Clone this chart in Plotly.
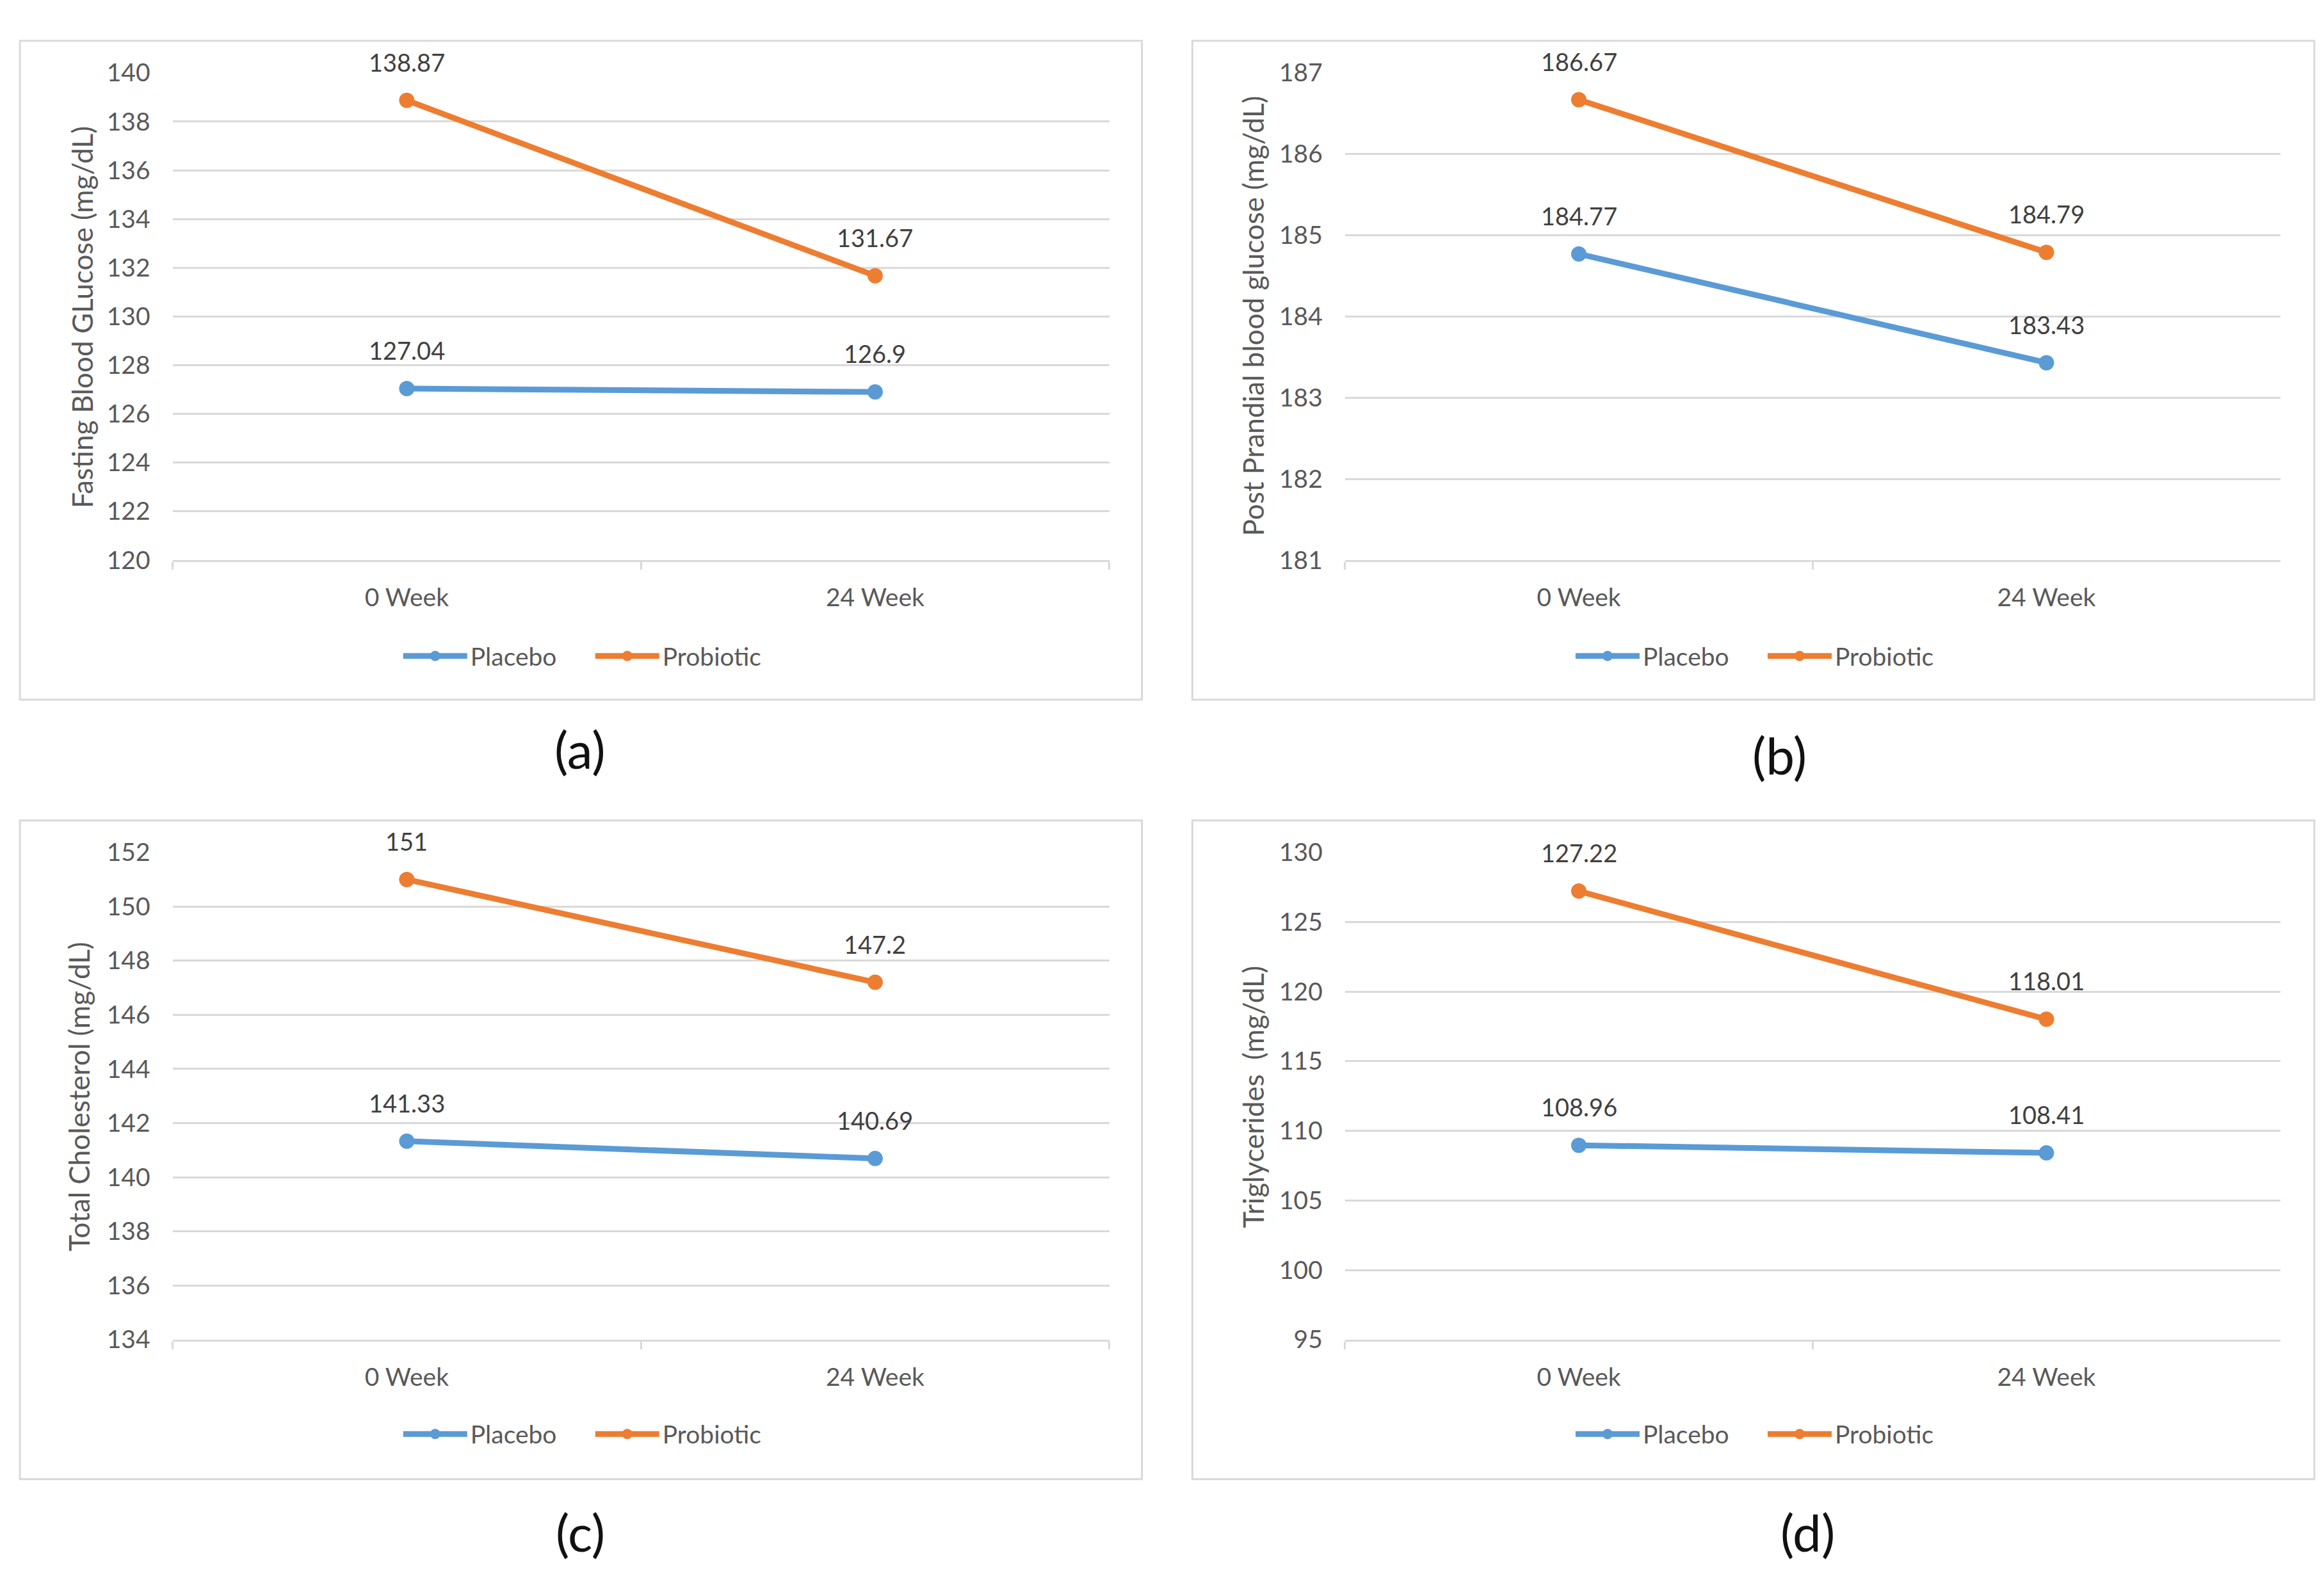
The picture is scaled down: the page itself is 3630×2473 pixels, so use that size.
import plotly.graph_objects as go

categories = ["0 Week", "24 Week"]
series_names = ["Placebo", "Probiotic"]

placebo_a = [127.04, 126.9]
probiotic_a = [138.87, 131.67]
placebo_b = [184.77, 183.43]
probiotic_b = [186.67, 184.79]
placebo_c = [141.33, 140.69]
probiotic_c = [151, 147.2]
placebo_d = [108.96, 108.41]
probiotic_d = [127.22, 118.01]

y_titles = ["Fasting Blood GLucose (mg/dL)", "Post Prandial blood glucose (mg/dL)",
            "Total Cholesterol (mg/dL)", "Triglycerides  (mg/dL)"]
y_ranges = [[120, 140], [181, 187], [134, 152], [95, 130]]
y_dticks = [2, 1, 2, 5]
captions = ["(a)", "(b)", "(c)", "(d)"]

panels = [(placebo_a, probiotic_a), (placebo_b, probiotic_b),
          (placebo_c, probiotic_c), (placebo_d, probiotic_d)]

W, H = 3630, 2473
DW, DH = 1568.0, 1068.2  # reference layout units


def fx(v):
    return v / DW


def fy(v):
    return 1 - v / DH


FONT = "Lato, 'Open Sans', sans-serif"
COLORS = ["#5B9BD5", "#ED7D31"]
GRID = "#D9D9D9"
TXT = "#595959"
LBL = "#404040"

# layout geometry (reference units)
plot_x = [(113, 745), (904, 1535), (113, 745), (904, 1535)]
plot_y = [(36, 371), (36, 371), (572, 907), (572, 907)]
box_x = [(10, 767), (801, 1558), (10, 767), (801, 1558)]
box_y = [(14, 467), (14, 467), (550, 1003), (550, 1003)]
ytitle_pos = [(52, 204), (842, 203), (50, 740), (842, 740)]
legend_pos = [(396, 437), (1187, 437), (396, 972), (1187, 972)]
caption_pos = [(388, 501), (1197, 505), (388, 1039), (1216, 1039)]

fig = go.Figure()
layout = dict(width=W, height=H, margin=dict(l=0, r=0, t=0, b=0),
              paper_bgcolor="white", plot_bgcolor="white",
              font=dict(family=FONT, color=TXT, size=38))
annotations = []
shapes = []

for i, (pl, pr) in enumerate(panels):
    n = "" if i == 0 else str(i + 1)
    xa, ya = "x" + n, "y" + n
    leg = "legend" + n
    for s, vals in enumerate((pl, pr)):
        fig.add_trace(go.Scatter(
            x=categories, y=vals, name=series_names[s], mode="lines+markers",
            line=dict(color=COLORS[s], width=9),
            marker=dict(color=COLORS[s], size=24, symbol="circle"),
            xaxis=xa, yaxis=ya, legend=leg, cliponaxis=False))
        for c, v in zip(categories, vals):
            annotations.append(dict(
                x=c, y=v, xref=xa, yref=ya, text=f"{v:g}", showarrow=False,
                yshift=60, font=dict(family=FONT, size=38, color=LBL)))
    layout["xaxis" + n] = dict(
        domain=[fx(plot_x[i][0]), fx(plot_x[i][1])], anchor=ya,
        type="category", range=[-0.5, 1.5], showgrid=False,
        showline=True, linecolor=GRID, linewidth=3,
        ticks="outside", tickson="boundaries", ticklen=12, tickcolor=GRID, tickwidth=3,
        ticklabelstandoff=22, tickfont=dict(family=FONT, size=39, color=TXT),
        zeroline=False, fixedrange=True)
    layout["yaxis" + n] = dict(
        domain=[fy(plot_y[i][1]), fy(plot_y[i][0])], anchor=xa,
        range=y_ranges[i], dtick=y_dticks[i], tick0=y_ranges[i][0],
        showgrid=True, gridcolor=GRID, gridwidth=3, showline=False,
        zeroline=False, ticks="", ticklabelstandoff=34,
        tickfont=dict(family=FONT, size=39, color=TXT), fixedrange=True)
    layout[leg] = dict(
        orientation="h", x=fx(legend_pos[i][0]), y=fy(legend_pos[i][1]),
        xanchor="center", yanchor="middle", xref="paper", yref="paper",
        font=dict(family=FONT, size=39, color=TXT), bgcolor="rgba(0,0,0,0)",
        itemwidth=100, entrywidth=185, entrywidthmode="pixels", tracegroupgap=0)
    annotations.append(dict(
        x=fx(ytitle_pos[i][0]), y=fy(ytitle_pos[i][1]), xref="paper", yref="paper",
        text=y_titles[i], textangle=-90, showarrow=False,
        xanchor="center", yanchor="middle",
        font=dict(family=FONT, size=44, color=TXT)))
    annotations.append(dict(
        x=fx(caption_pos[i][0]), y=fy(caption_pos[i][1]), xref="paper", yref="paper",
        text=captions[i], showarrow=False, xanchor="center", yanchor="middle",
        font=dict(family=FONT, size=80, color="#111111")))
    shapes.append(dict(
        type="rect", xref="paper", yref="paper",
        x0=fx(box_x[i][0]), x1=fx(box_x[i][1]), y0=fy(box_y[i][1]), y1=fy(box_y[i][0]),
        line=dict(color=GRID, width=3), fillcolor="rgba(0,0,0,0)", layer="below"))

layout["annotations"] = annotations
layout["shapes"] = shapes
fig.update_layout(**layout)
fig.write_html("out.html")
